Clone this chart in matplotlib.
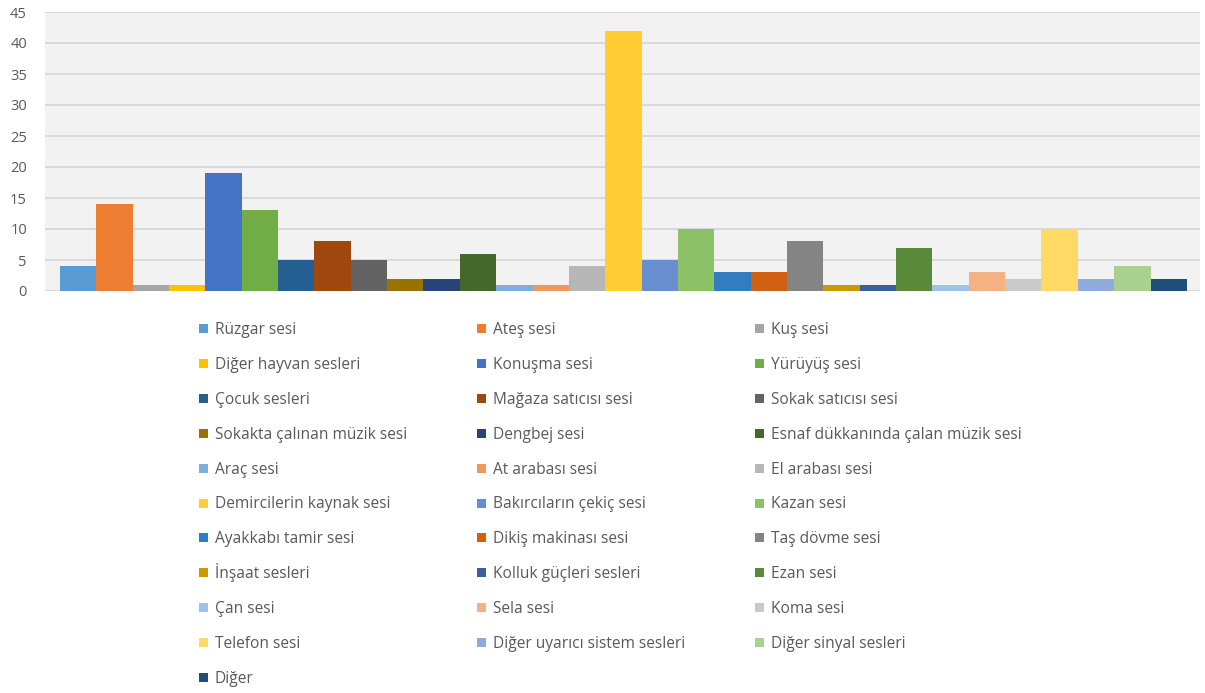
import matplotlib
matplotlib.use("Agg")
import matplotlib.pyplot as plt
from matplotlib.patches import Rectangle

categories = [
    "Rüzgar sesi", "Ateş sesi", "Kuş sesi",
    "Diğer hayvan sesleri", "Konuşma sesi", "Yürüyüş sesi",
    "Çocuk sesleri", "Mağaza satıcısı sesi", "Sokak satıcısı sesi",
    "Sokakta çalınan müzik sesi", "Dengbej sesi", "Esnaf dükkanında çalan müzik sesi",
    "Araç sesi", "At arabası sesi", "El arabası sesi",
    "Demircilerin kaynak sesi", "Bakırcıların çekiç sesi", "Kazan sesi",
    "Ayakkabı tamir sesi", "Dikiş makinası sesi", "Taş dövme sesi",
    "İnşaat sesleri", "Kolluk güçleri sesleri", "Ezan sesi",
    "Çan sesi", "Sela sesi", "Koma sesi",
    "Telefon sesi", "Diğer uyarıcı sistem sesleri", "Diğer sinyal sesleri",
    "Diğer",
]
values = [4, 14, 1, 1, 19, 13, 5, 8, 5, 2, 2, 6, 1, 1, 4, 42, 5, 10,
          3, 3, 8, 1, 1, 7, 1, 3, 2, 10, 2, 4, 2]
colors = [
    "#5B9BD5", "#ED7D31", "#A5A5A5", "#FFC000", "#4472C4", "#70AD47",
    "#255E91", "#9E480E", "#636363", "#997300", "#264478", "#43682B",
    "#7CAFDD", "#F1975A", "#B7B7B7", "#FFCD33", "#698ED0", "#8CC168",
    "#327DC2", "#D26012", "#848484", "#CC9A00", "#3A5FA0", "#5A8A39",
    "#9DC3E6", "#F4B183", "#C9C9C9", "#FFD966", "#8FAADC", "#A9D18E",
    "#1F4E79",
]
yticks = [0, 5, 10, 15, 20, 25, 30, 35, 40, 45]

plt.rcParams['font.family'] = ['Open Sans', 'DejaVu Sans']

W, H = 1205, 693
fig = plt.figure(figsize=(W / 100, H / 100), dpi=100)
ax = fig.add_axes([45 / W, 1 - 291 / H, 1155 / W, (291 - 12) / H])
ax.set_facecolor("#F2F2F2")

x = list(range(len(values)))
ax.bar(x, values, width=1.0, color=colors, zorder=3)
ax.set_xlim(-0.5 - 0.41, len(values) - 0.5 + 0.36)
ax.set_ylim(0, 45)
ax.set_yticks(yticks)
ax.set_yticklabels([str(t) for t in yticks], color="#595959", fontsize=10.5)
ax.tick_params(axis="y", length=0, pad=13)
ax.set_xticks([])
ax.yaxis.grid(True, color="#D9D9D9", linewidth=1.4, zorder=0)
for s in ax.spines.values():
    s.set_visible(False)

# Legend: 3 columns, row-wise order, fixed grid
col_x = [199, 477, 755]
mark_y0, base_y0, row_dy, msize = 328.5, 334.0, 34.9, 9
for i, (name, c) in enumerate(zip(categories, colors)):
    r, ci = divmod(i, 3)
    mx = col_x[ci]
    my = mark_y0 + r * row_dy
    fig.add_artist(Rectangle((mx / W, 1 - (my + msize / 2) / H), msize / W, msize / H,
                             transform=fig.transFigure, facecolor=c, edgecolor="none"))
    fig.text((mx + 16) / W, 1 - (base_y0 + r * row_dy) / H, name,
             fontsize=11.2, color="#595959", ha="left", va="baseline")

fig.savefig("out.png", dpi=100)
